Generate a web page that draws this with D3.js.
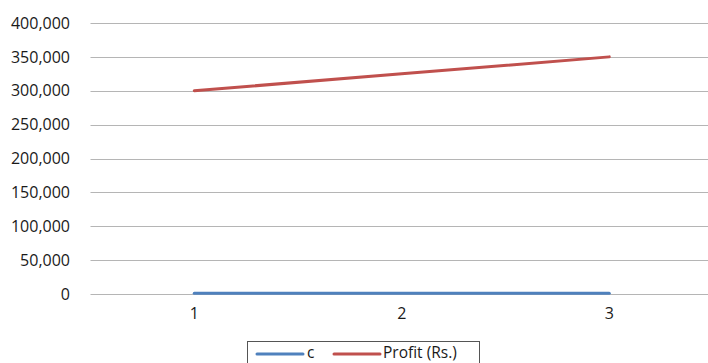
<!DOCTYPE html>
<html><head><meta charset="utf-8">
<script src="https://cdn.jsdelivr.net/npm/d3@7"></script>
<style>body{margin:0;background:#fff;overflow:hidden}svg{display:block;font-family:"Open Sans",sans-serif}</style>
</head><body>
<svg id="c" width="708" height="363"></svg>
<script>
const categories = ["1","2","3"];
const seriesC = [1000, 1000, 1000];
const seriesProfit = [300000, 325000, 350000];
const yTicks = [0,50000,100000,150000,200000,250000,300000,350000,400000];
const seriesNames = ["c","Profit (Rs.)"];
const colors = ["#4f81bd","#c0504d"];

const svg = d3.select("#c");
const x = d3.scaleBand().domain(categories).range([90.5, 713]);
const y = d3.scaleLinear().domain([0,400000]).range([294, 23]);

const grid = svg.append("g");
grid.selectAll("line").data(yTicks).join("line")
  .attr("x1", 90.5).attr("x2", 713)
  .attr("y1", d => Math.round(y(d))+0.5).attr("y2", d => Math.round(y(d))+0.5)
  .attr("stroke", "#b5b5b5").attr("stroke-width", 1);

const yAxis = d3.axisLeft(y).tickValues(yTicks).tickSize(0).tickPadding(0).tickFormat(d3.format(","));
svg.append("g").attr("transform","translate(70,0)").call(yAxis)
  .call(g => g.select(".domain").remove())
  .call(g => g.selectAll("text").attr("font-size","16px").attr("fill","#1a1a1a").attr("font-family","Open Sans"));

const xAxis = d3.axisBottom(x).tickSize(0).tickPadding(0);
svg.append("g").attr("transform","translate(0,308)").call(xAxis)
  .call(g => g.select(".domain").remove())
  .call(g => g.selectAll("text").attr("font-size","16px").attr("fill","#1a1a1a").attr("font-family","Open Sans"));

const line = d3.line().x((d,i) => x(categories[i]) + x.bandwidth()/2).y(d => y(d));
[seriesC, seriesProfit].forEach((s, k) => {
  svg.append("path").datum(s).attr("d", line).attr("fill","none")
    .attr("stroke", colors[k]).attr("stroke-width", 3).attr("stroke-linecap","round");
});

// legend
const lg = svg.append("g");
lg.append("rect").attr("x", 247.5).attr("y", 341.5).attr("width", 232).attr("height", 30)
  .attr("fill","#fff").attr("stroke","#555").attr("stroke-width",1);
const legendX = [[257, 303, 307], [334, 380, 383]];
seriesNames.forEach((n, k) => {
  lg.append("line").attr("x1", legendX[k][0]).attr("x2", legendX[k][1]).attr("y1", 354).attr("y2", 354)
    .attr("stroke", colors[k]).attr("stroke-width", 3).attr("stroke-linecap","round");
  lg.append("text").attr("x", legendX[k][2]).attr("y", 358).text(n)
    .attr("font-size","15.5px").attr("fill","#1a1a1a");
});
</script>
</body></html>
